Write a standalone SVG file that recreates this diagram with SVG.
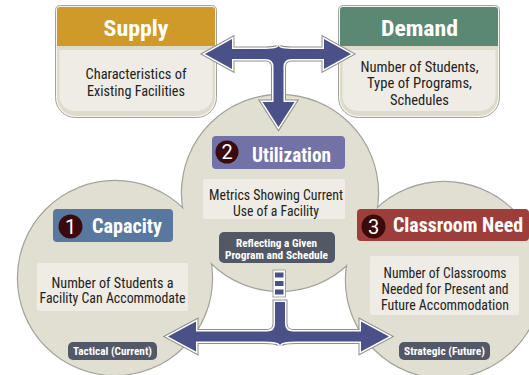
<svg xmlns="http://www.w3.org/2000/svg" xmlns:xlink="http://www.w3.org/1999/xlink" width="529" height="375" viewBox="0 0 529 375">
<style>
text { font-family: "Roboto Condensed", "Liberation Sans Narrow", "DejaVu Sans Condensed", Roboto, sans-serif; font-stretch: condensed; }
.ttl { font-weight: 700; fill: #ffffff; }
.big { font-size: 22px; text-anchor: middle; }
.hd { font-size: 19.5px; }
.bd { font-size: 14.5px; fill: #222222; text-anchor: middle; }
.lb { font-size: 11.5px; font-weight: 700; fill: #ffffff; text-anchor: middle; }
.num { font-size: 20px; fill: #ffffff; text-anchor: middle; font-family: Roboto, "Liberation Sans", sans-serif; font-stretch: normal; }
.frame { fill: #f6f5f0; stroke: #a2a2a0; stroke-width: 1; }
.ring { fill: #dedbca; }
.inner { fill: #eeece5; }
.blobS { fill: none; stroke: #a3a29b; stroke-width: 2.4; }
.blobF { fill: #e1dfd2; }
.box { fill: #eeece5; }
.dark { fill: #535866; }
.dot { fill: #3a0a0c; }
.arrO { fill: none; stroke: #8f8f8f; stroke-width: 5; }
.arrI { fill: #4a5088; stroke: #ffffff; stroke-width: 3; paint-order: stroke; }
</style>
<defs>
<path id="frameP" d="M 60.5 5.5 H 211.5 Q 216.5 5.5 216.5 10.5 V 97.5 A 20 20 0 0 1 196.5 117.5 H 75.5 A 20 20 0 0 1 55.5 97.5 V 10.5 Q 55.5 5.5 60.5 5.5 Z"/>
<path id="ringP" d="M 57 46 H 215 V 97 A 19 19 0 0 1 196 116 H 76 A 19 19 0 0 1 57 97 Z"/>
<path id="innerP" d="M 59.5 50 H 212.5 V 96 A 15 15 0 0 1 197.5 111 H 74.5 A 15 15 0 0 1 59.5 96 Z"/>
<path id="hdrP" d="M 57 10 Q 57 7 60 7 H 212 Q 215 7 215 10 V 46 H 57 Z"/>
<path id="arrTop" d="M 205 54 L 232 39 L 232 49 L 262 49 Q 278.5 49 278.5 45.5 Q 278.5 49 295 49 L 324 49 L 324 39 L 351 54 L 324 69 L 324 59 L 291.5 59 Q 283.5 59 283.5 67 L 283.5 102 L 294.5 102 L 278.5 127 L 262.5 102 L 273.5 102 L 273.5 67 Q 273.5 59 265.5 59 L 232 59 L 232 69 Z"/>
<path id="arrBot" d="M 168 336.5 L 196 321.5 L 196 331.5 L 267 331.5 Q 275 331.5 275 323.5 L 275 302 L 285 302 L 285 323.5 Q 285 331.5 293 331.5 L 361 331.5 L 361 321.5 L 389 336.5 L 361 351.5 L 361 341.5 L 297 341.5 Q 280 341.5 280 345.5 Q 280 341.5 263 341.5 L 196 341.5 L 196 351.5 Z"/>
</defs>

<g id="blob">
<circle class="blobS" cx="115" cy="278" r="97"/>
<circle class="blobS" cx="280" cy="193" r="98"/>
<circle class="blobS" cx="444" cy="280" r="98"/>
<circle class="blobF" cx="115" cy="278" r="97"/>
<circle class="blobF" cx="280" cy="193" r="98"/>
<circle class="blobF" cx="444" cy="280" r="98"/>
</g>

<g id="supply">
<use xlink:href="#frameP" class="frame"/>
<use xlink:href="#ringP" class="ring"/>
<use xlink:href="#innerP" class="inner"/>
<use xlink:href="#hdrP" fill="#d09a2a"/>
<text class="ttl big" x="136" y="36" textLength="65" lengthAdjust="spacingAndGlyphs">Supply</text>
<text class="bd" x="136" y="79" textLength="101" lengthAdjust="spacingAndGlyphs">Characteristics of</text>
<text class="bd" x="136" y="96" textLength="98" lengthAdjust="spacingAndGlyphs">Existing Facilities</text>
</g>

<g id="demand" transform="translate(283,0)">
<use xlink:href="#frameP" class="frame"/>
<use xlink:href="#ringP" class="ring"/>
<use xlink:href="#innerP" class="inner"/>
<use xlink:href="#hdrP" fill="#5b8873"/>
<text class="ttl big" x="136.5" y="36" textLength="77" lengthAdjust="spacingAndGlyphs">Demand</text>
<text class="bd" x="136.5" y="71.5" textLength="118" lengthAdjust="spacingAndGlyphs">Number of Students,</text>
<text class="bd" x="136.5" y="88" textLength="105" lengthAdjust="spacingAndGlyphs">Type of Programs,</text>
<text class="bd" x="136.5" y="104.5" textLength="59" lengthAdjust="spacingAndGlyphs">Schedules</text>
</g>

<g id="utilization">
<rect x="212" y="136" width="133" height="33" rx="4" fill="#7372a6"/>
<circle class="dot" cx="227" cy="152" r="11.5"/>
<text class="num" x="227" y="159">2</text>
<text class="ttl hd" x="252" y="161.5" textLength="79" lengthAdjust="spacingAndGlyphs">Utilization</text>
<rect class="box" x="203" y="179" width="142" height="40" rx="2"/>
<text class="bd" x="276" y="200" textLength="134" lengthAdjust="spacingAndGlyphs">Metrics Showing Current</text>
<text class="bd" x="276" y="215.5" textLength="86" lengthAdjust="spacingAndGlyphs">Use of a Facility</text>
<rect class="dark" x="219" y="232" width="116" height="31" rx="5"/>
<text class="lb" x="276.5" y="246.5" textLength="81" lengthAdjust="spacingAndGlyphs">Reflecting a Given</text>
<text class="lb" x="276.5" y="259" textLength="103" lengthAdjust="spacingAndGlyphs">Program and Schedule</text>
</g>

<g id="capacity">
<rect x="53" y="209" width="120" height="33" rx="4" fill="#5878a0"/>
<circle class="dot" cx="70.5" cy="226.5" r="12"/>
<text class="num" x="70.5" y="233.5">1</text>
<text class="ttl hd" x="92" y="233.3" textLength="70" lengthAdjust="spacingAndGlyphs">Capacity</text>
<rect class="box" x="37" y="263" width="151" height="48" rx="2"/>
<text class="bd" x="112.5" y="287.7" textLength="122" lengthAdjust="spacingAndGlyphs">Number of Students a</text>
<text class="bd" x="112.5" y="303.3" textLength="146" lengthAdjust="spacingAndGlyphs">Facility Can Accommodate</text>
<rect class="dark" x="68" y="342" width="89" height="18" rx="5"/>
<text class="lb" x="112.5" y="355" textLength="79" lengthAdjust="spacingAndGlyphs">Tactical (Current)</text>
</g>

<g id="classroom-need">
<rect x="357" y="209" width="172" height="32" rx="4" fill="#9e3e3a"/>
<circle class="dot" cx="373.5" cy="226.5" r="12"/>
<text class="num" x="373.5" y="233.5">3</text>
<text class="ttl hd" x="393" y="231.7" textLength="130" lengthAdjust="spacingAndGlyphs">Classroom Need</text>
<rect class="box" x="370" y="256" width="149" height="59" rx="2"/>
<text class="bd" x="445" y="278.3" textLength="123" lengthAdjust="spacingAndGlyphs">Number of Classrooms</text>
<text class="bd" x="445" y="293.7" textLength="127" lengthAdjust="spacingAndGlyphs">Needed for Present and</text>
<text class="bd" x="445" y="310" textLength="128" lengthAdjust="spacingAndGlyphs">Future Accommodation</text>
<rect class="dark" x="399" y="342" width="91" height="18" rx="5"/>
<text class="lb" x="444.5" y="355" textLength="81" lengthAdjust="spacingAndGlyphs">Strategic (Future)</text>
</g>

<g id="connectors">
<use xlink:href="#arrTop" class="arrO"/>
<use xlink:href="#arrTop" class="arrI"/>
<use xlink:href="#arrBot" class="arrO"/>
<use xlink:href="#arrBot" class="arrI"/>
<rect x="273" y="270" width="12.5" height="27" fill="#ffffff" stroke="#8f8f8f" stroke-width="0.8"/>
<rect x="275" y="272.5" width="8.5" height="5" fill="#4a5088"/>
<rect x="275" y="281" width="8.5" height="5" fill="#4a5088"/>
<rect x="275" y="289.5" width="8.5" height="5" fill="#4a5088"/>
</g>
</svg>
